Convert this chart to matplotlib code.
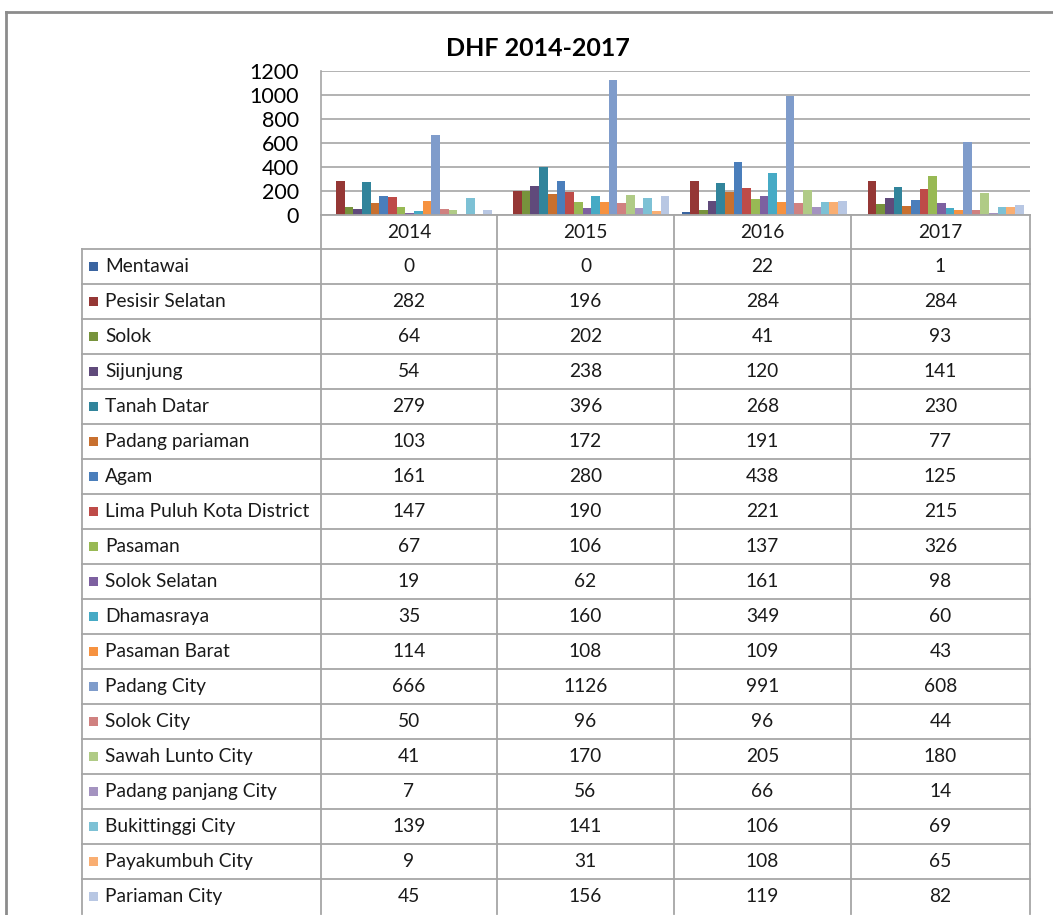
import numpy as np
import matplotlib
matplotlib.use("Agg")
import matplotlib.pyplot as plt
from matplotlib.patches import Rectangle
from matplotlib.lines import Line2D

# data
years = ["2014", "2015", "2016", "2017"]
regions = ["Mentawai", "Pesisir Selatan", "Solok", "Sijunjung", "Tanah Datar",
           "Padang pariaman", "Agam", "Lima Puluh Kota District", "Pasaman",
           "Solok Selatan", "Dhamasraya", "Pasaman Barat", "Padang City",
           "Solok City", "Sawah Lunto City", "Padang panjang City",
           "Bukittinggi City", "Payakumbuh City", "Pariaman City"]
cases = [
    [0, 0, 22, 1],
    [282, 196, 284, 284],
    [64, 202, 41, 93],
    [54, 238, 120, 141],
    [279, 396, 268, 230],
    [103, 172, 191, 77],
    [161, 280, 438, 125],
    [147, 190, 221, 215],
    [67, 106, 137, 326],
    [19, 62, 161, 98],
    [35, 160, 349, 60],
    [114, 108, 109, 43],
    [666, 1126, 991, 608],
    [50, 96, 96, 44],
    [41, 170, 205, 180],
    [7, 56, 66, 14],
    [139, 141, 106, 69],
    [9, 31, 108, 65],
    [45, 156, 119, 82],
]
colors = ["#3A64A0", "#953735", "#77933C", "#604A7B", "#31849B", "#C8702F",
          "#4A7EBB", "#BE4B48", "#98B954", "#7D60A0", "#46AAC5", "#F69240",
          "#7F9CCB", "#D08180", "#B0CB86", "#A493C0", "#7DC1D5", "#F9AE72",
          "#B8C7E3"]

W, H = 1053, 915
fig = plt.figure(figsize=(W / 100, H / 100), dpi=100)
font = "Lato"
grid_c = "#a6a6a6"


def fx(x):
    return x / W


def fy(y):
    return 1 - y / H


# outer chart border
fig.add_artist(Line2D([fx(6), fx(6)], [fy(12), fy(915)], color="#8c8c8c", lw=2))
fig.add_artist(Line2D([fx(6), fx(1053)], [fy(12), fy(12)], color="#8c8c8c", lw=2))

# plot area
x0, x1, y0, y1 = 321, 1030, 71, 215
ax = fig.add_axes([fx(x0), fy(y1), fx(x1 - x0), fy(y0) - fy(y1)])
n = len(regions)
group = 0.93
bw = group / n
x = np.arange(len(years))
for i, (name, vals) in enumerate(zip(regions, cases)):
    ax.bar(x - group / 2 + bw * (i + 0.5), vals, width=bw, color=colors[i], zorder=3)
ax.set_xlim(-0.5, len(years) - 0.5)
ax.set_ylim(0, 1200)
ax.set_yticks(range(0, 1201, 200))
ax.yaxis.grid(True, color=grid_c, lw=1.2, zorder=0)
ax.set_xticks([])
ax.tick_params(axis="y", length=0, pad=16, labelsize=15.5)
for lab in ax.get_yticklabels():
    lab.set_fontfamily(font)
for s in ["top", "right", "bottom"]:
    ax.spines[s].set_visible(False)
ax.spines["left"].set_color(grid_c)
ax.spines["left"].set_linewidth(1.2)
ax.set_facecolor("none")

fig.text(fx(538), fy(48), "DHF 2014-2017", ha="center", va="center",
         fontsize=18, fontweight="bold", family=font)

# data table
col_edges = [82, 321, 497, 674, 851, 1030]
head_top, head_bot = 215, 249
row_h = 35
tc = "#a6a6a6"
fs = 13.8

# header row
for xe in col_edges[1:]:
    fig.add_artist(Line2D([fx(xe)] * 2, [fy(head_top), fy(head_bot)], color=tc, lw=1.3))
fig.add_artist(Line2D([fx(321), fx(1030)], [fy(head_top)] * 2, color=tc, lw=1.3))
for j, yr in enumerate(years):
    cx = (col_edges[j + 1] + col_edges[j + 2]) / 2
    fig.text(fx(cx), fy((head_top + head_bot) / 2), yr, ha="center", va="center",
             fontsize=fs, family=font, color="#1a1a1a")

for i, name in enumerate(regions):
    top = head_bot + i * row_h
    bot = top + row_h
    fig.add_artist(Line2D([fx(82), fx(1030)], [fy(top)] * 2, color=tc, lw=1.3))
    for xe in col_edges:
        fig.add_artist(Line2D([fx(xe)] * 2, [fy(top), fy(bot)], color=tc, lw=1.3))
    cy = (top + bot) / 2
    fig.add_artist(Rectangle((fx(89), fy(cy + 4.5)), fx(8.5), fy(0) - fy(9),
                             facecolor=colors[i], edgecolor="none"))
    fig.text(fx(105), fy(cy), name, ha="left", va="center", fontsize=fs,
             family=font, color="#1a1a1a")
    for j, v in enumerate(cases[i]):
        cx = (col_edges[j + 1] + col_edges[j + 2]) / 2
        fig.text(fx(cx), fy(cy), str(v), ha="center", va="center", fontsize=fs,
                 family=font, color="#1a1a1a")

fig.savefig("out.png", dpi=100)
